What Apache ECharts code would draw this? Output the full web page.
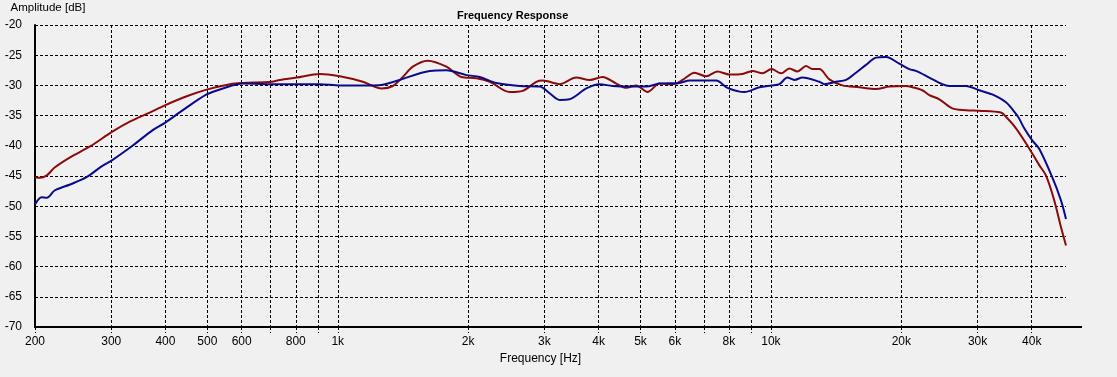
<!DOCTYPE html>
<html>
<head>
<meta charset="utf-8">
<script src="https://cdn.jsdelivr.net/npm/echarts@6/dist/echarts.min.js"></script>
<style>
  html, body { margin: 0; padding: 0; background: #f0f0f0; }
  #chart { width: 1117px; height: 377px; }
</style>
</head>
<body>
<div id="chart"></div>
<script>
// tick positions (Hz) on the log frequency axis
const gridFreqs = [200, 300, 400, 500, 600, 700, 800, 900, 1000,
  2000, 3000, 4000, 5000, 6000, 7000, 8000, 9000, 10000, 20000, 30000, 40000]
const labelFreqs = [200, 300, 400, 500, 600, 800, 1000,
  2000, 3000, 4000, 5000, 6000, 8000, 10000, 20000, 30000, 40000]

// red trace: [Hz, dB]
const redCurve = [
  [200, -45.2], [205, -45.3], [213, -44.9], [222, -43.6], [241, -41.9], [268, -40.1],
  [301, -37.7], [331, -36.0], [368, -34.5], [399, -33.3], [448, -31.8], [498, -30.7],
  [564, -29.8], [604, -29.6], [703, -29.4], [735, -29.1], [803, -28.7], [909, -28.1],
  [1011, -28.5], [1142, -29.4], [1262, -30.5], [1340, -30.1], [1413, -28.6], [1490, -26.9],
  [1612, -25.9], [1782, -26.9], [1929, -28.6], [2089, -28.8], [2244, -29.4], [2493, -31.1],
  [2672, -30.9], [2873, -29.4], [2971, -29.2], [3195, -29.7], [3251, -29.8], [3553, -28.7],
  [3814, -29.1], [4086, -28.6], [4395, -29.7], [4634, -30.4], [4887, -30.0], [5189, -31.1],
  [5531, -29.7], [5832, -29.8], [6044, -29.7], [6250, -29.1], [6661, -27.9], [7088, -28.5],
  [7527, -27.7], [8023, -28.2], [8595, -28.1], [9064, -27.6], [9559, -28.0], [10035, -27.3],
  [10557, -28.0], [11033, -27.2], [11514, -27.7], [12055, -26.8], [12465, -27.3], [12937, -27.3],
  [13643, -29.0], [14620, -30.0], [16000, -30.3], [17480, -30.6], [18770, -30.2], [20500, -30.1],
  [21210, -30.3], [22360, -30.8], [23210, -31.6], [24480, -32.3], [26230, -33.8], [28210, -34.1],
  [30270, -34.2], [33960, -34.5], [34880, -35.2], [36790, -37.1], [39060, -39.9], [41630, -43.2],
  [43140, -44.9], [45080, -49.0], [46710, -53.4], [48000, -56.5]
]

// blue trace: [Hz, dB]
const blueCurve = [
  [200, -49.7], [207, -48.5], [213, -48.6], [222, -47.4], [241, -46.4], [263, -45.2],
  [285, -43.4], [301, -42.4], [337, -39.9], [374, -37.4], [399, -36.2], [439, -34.1],
  [498, -31.5], [543, -30.5], [604, -29.7], [735, -29.8], [909, -29.8], [1011, -30.0],
  [1205, -30.0], [1270, -29.9], [1390, -29.1], [1630, -27.6], [1782, -27.5], [1982, -28.3],
  [2127, -28.6], [2323, -29.6], [2630, -30.1], [2924, -30.2], [3084, -31.3], [3251, -32.4],
  [3428, -32.3], [3748, -30.5], [4021, -29.8], [4309, -30.1], [4792, -30.2], [5153, -30.2],
  [5531, -29.7], [6151, -29.6], [6486, -29.2], [7475, -29.2], [7938, -30.4], [8687, -31.1],
  [9408, -30.3], [10035, -30.0], [10461, -29.8], [10916, -28.7], [11331, -29.1], [11820, -28.7],
  [12937, -29.4], [13285, -29.8], [14137, -29.4], [14910, -29.1], [15720, -27.9], [16580, -26.6],
  [17480, -25.4], [18440, -25.3], [19790, -26.4], [20870, -27.3], [21620, -27.6], [23210, -28.7],
  [24870, -29.8], [25810, -30.1], [28210, -30.1], [30270, -30.8], [32430, -31.5], [34880, -32.8],
  [36790, -34.7], [37430, -35.5], [38440, -37.1], [40110, -39.1], [41630, -40.5], [44610, -45.2],
  [46710, -49.0], [48000, -52.1]
]

const FONT = 'Liberation Sans'
const dashed = { color: '#000', width: 1, type: [3, 2] }

const chart = echarts.init(document.getElementById('chart'))

chart.setOption({
  backgroundColor: '#f0f0f0',
  animation: false,
  title: {
    text: 'Frequency Response',
    left: 452,
    top: 5,
    textStyle: { fontFamily: FONT, fontSize: 11, fontWeight: 'bold', color: '#000' }
  },
  grid: { left: 35, right: 51, top: 25, bottom: 50 },
  xAxis: {
    type: 'log',
    logBase: 10,
    min: 200,
    max: 48000,
    name: 'Frequency [Hz]',
    nameLocation: 'middle',
    nameGap: 25,
    nameTextStyle: { fontFamily: FONT, fontSize: 12, color: '#000', padding: [0, 20, 0, 0] },
    axisLine: { lineStyle: { color: '#000', width: 2 } },
    axisTick: { show: true, length: 6, customValues: gridFreqs, lineStyle: dashed },
    axisLabel: {
      customValues: labelFreqs,
      fontFamily: FONT, fontSize: 12, color: '#000', margin: 9,
      formatter: v => v >= 1000 ? (v / 1000) + 'k' : String(v)
    },
    splitLine: { show: true, lineStyle: dashed },
    minorTick: { show: false },
    minorSplitLine: { show: false }
  },
  yAxis: {
    type: 'value',
    min: -70,
    max: -20,
    interval: 5,
    name: 'Amplitude [dB]',
    nameLocation: 'end',
    nameGap: 11,
    nameTextStyle: { fontFamily: FONT, fontSize: 11.5, color: '#000', align: 'center', padding: [0, 0, 0, 26] },
    axisLine: { show: true, lineStyle: { color: '#000', width: 2 } },
    axisTick: { show: false },
    axisLabel: { fontFamily: FONT, fontSize: 12, color: '#000', margin: 13 },
    splitLine: { show: true, lineStyle: dashed }
  },
  graphic: [{
    type: 'line',
    shape: { x1: 1066, y1: 327, x2: 1082, y2: 327 },
    style: { stroke: '#000', lineWidth: 2 },
    silent: true
  }],
  series: [
    {
      name: 'red',
      type: 'line',
      data: redCurve,
      showSymbol: false,
      smooth: 0.3,
      lineStyle: { color: '#8c0a0a', width: 2 },
      z: 3
    },
    {
      name: 'blue',
      type: 'line',
      data: blueCurve,
      showSymbol: false,
      smooth: 0.3,
      lineStyle: { color: '#0a0a8c', width: 2 },
      z: 4
    }
  ]
})
</script>
</body>
</html>
